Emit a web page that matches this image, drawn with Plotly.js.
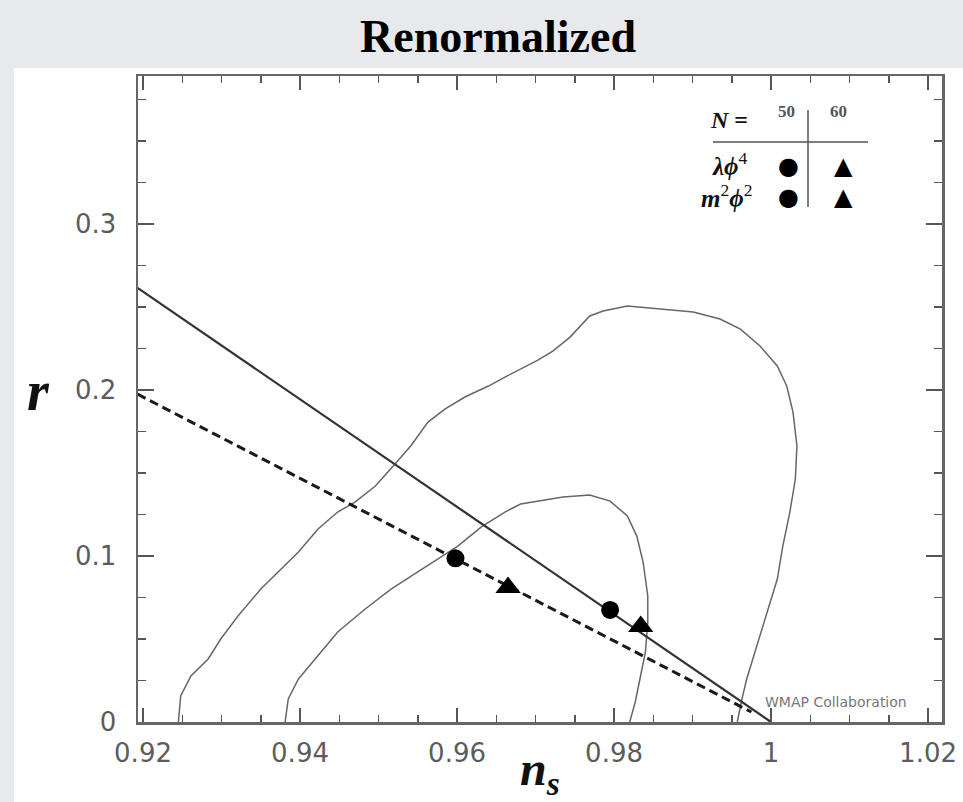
<!DOCTYPE html>
<html>
<head>
<meta charset="utf-8">
<script src="https://cdn.plot.ly/plotly-3.0.1.min.js"></script>
<style>
html,body{margin:0;padding:0;background:#e8e9ed;}
#chart{width:963px;height:802px;}
</style>
</head>
<body>
<div id="chart"></div>
<script>
// ---- data ----
const xTickVals = [0.92, 0.94, 0.96, 0.98, 1.00, 1.02];
const xTickText = ['0.92', '0.94', '0.96', '0.98', '1', '1.02'];
const yTickVals = [0, 0.1, 0.2, 0.3];
const yTickText = ['0', '0.1', '0.2', '0.3'];

// 95% (outer) contour
const outerNs = [0.9245, 0.9248, 0.9261, 0.9283, 0.9299, 0.9321, 0.9350, 0.9376, 0.9398, 0.9423, 0.9448, 0.9470,
  0.9496, 0.9521, 0.9541, 0.9563, 0.9585, 0.9610, 0.9640, 0.9661, 0.9682, 0.9703, 0.9722, 0.9744, 0.9769,
  0.9786, 0.9817, 0.9859, 0.9901, 0.9935, 0.9961, 0.9986, 1.0008, 1.0020, 1.0028, 1.0033, 1.0031, 1.0024,
  1.0015, 1.0008, 0.9995, 0.9982, 0.9969, 0.9963, 0.9957];
const outerR = [0.000, 0.0157, 0.0277, 0.0380, 0.0500, 0.0639, 0.0801, 0.0922, 0.1024, 0.1163, 0.1265, 0.1325,
  0.1422, 0.1554, 0.1663, 0.1807, 0.1886, 0.1958, 0.2024, 0.2078, 0.2127, 0.2180, 0.2235, 0.2319, 0.2446,
  0.2476, 0.2506, 0.2488, 0.2470, 0.2428, 0.2367, 0.2265, 0.2145, 0.2024, 0.1867, 0.1663, 0.1464, 0.1265,
  0.1060, 0.0861, 0.0663, 0.0458, 0.0259, 0.0139, 0.000];

// 68% (inner) contour
const innerNs = [0.9381, 0.9385, 0.9398, 0.9419, 0.9448, 0.9483, 0.9516, 0.9550, 0.9576, 0.9601, 0.9631, 0.9661,
  0.9681, 0.9703, 0.9735, 0.9769, 0.9795, 0.9817, 0.9829, 0.9837, 0.9843, 0.9843, 0.9840, 0.9833, 0.9827, 0.9820];
const innerR = [0.000, 0.0139, 0.0259, 0.0380, 0.0542, 0.0681, 0.0801, 0.0904, 0.0982, 0.1060, 0.1175, 0.1265,
  0.1313, 0.1331, 0.1355, 0.1367, 0.1331, 0.1241, 0.1120, 0.0964, 0.0759, 0.0602, 0.0422, 0.0259, 0.0120, 0.000];

// model lines
const solidNs = [0.9193, 1.000];
const solidR = [0.2615, 0.000];
const dashedNs = [0.9193, 0.9975];
const dashedR = [0.1975, 0.0060];

// model points (N = 50 circles, N = 60 triangles)
const circleNs = [0.9598, 0.9795];
const circleR = [0.0986, 0.0675];
const triangleNs = [0.9665, 0.9834];
const triangleR = [0.0811, 0.0576];

// ---- layout helpers (pixel -> paper) ----
const L = 138, R = 942, T = 76, B = 722;
const px = x => (x - L) / (R - L);
const py = y => (B - y) / (B - T);

const serif = 'Liberation Serif, Times New Roman, serif';
const sans = 'DejaVu Sans, Verdana, sans-serif';

const traces = [
  {x: outerNs, y: outerR, mode: 'lines', line: {color: '#666', width: 1.5}, hoverinfo: 'skip'},
  {x: innerNs, y: innerR, mode: 'lines', line: {color: '#666', width: 1.5}, hoverinfo: 'skip'},
  {x: solidNs, y: solidR, mode: 'lines', line: {color: '#333', width: 2.2}},
  {x: dashedNs, y: dashedR, mode: 'lines', line: {color: '#1a1a1a', width: 3, dash: '9px,5px'}},
  {x: circleNs, y: circleR, mode: 'markers', marker: {symbol: 'circle', size: 18, color: '#000'}},
  {x: triangleNs, y: triangleR, mode: 'markers', marker: {symbol: 'triangle-up', size: 22, color: '#000'}}
];

const axisCommon = {
  showgrid: false, zeroline: false, showline: true, mirror: 'allticks',
  linecolor: '#666', linewidth: 2.5, ticks: 'inside', tickcolor: '#555', tickwidth: 2,
  tickfont: {family: sans, size: 26, color: '#5c5c5c'}, fixedrange: true
};

const layout = {
  width: 963, height: 802,
  paper_bgcolor: '#e8e9ed', plot_bgcolor: '#ffffff',
  margin: {l: L, r: 963 - R, t: T, b: 802 - B, pad: 0},
  showlegend: false,
  title: {text: '<b>Renormalized</b>', font: {family: serif, size: 46, color: '#000'},
    xref: 'container', x: 498 / 963, xanchor: 'center', yref: 'container', y: 1 - 36 / 802, yanchor: 'middle'},
  xaxis: Object.assign({}, axisCommon, {
    range: [0.91936, 1.02178], tickmode: 'array', tickvals: xTickVals, ticktext: xTickText,
    ticklen: 14, ticklabelstandoff: 6,
    minor: {tickmode: 'linear', tick0: 0.92, dtick: 0.005, ticks: 'inside', ticklen: 7, tickcolor: '#555', tickwidth: 1.5},
    title: {text: '<b><i>n</i></b><sub><b><i>s</i></b></sub>', font: {family: serif, size: 48, color: '#111'}, standoff: 0}
  }),
  yaxis: Object.assign({}, axisCommon, {
    range: [0, 0.3892], tickmode: 'array', tickvals: yTickVals, ticktext: yTickText,
    ticklen: 16, ticklabelstandoff: 14,
    minor: {tickmode: 'linear', tick0: 0, dtick: 0.025, ticks: 'inside', ticklen: 8, tickcolor: '#555', tickwidth: 1.5}
  }),
  shapes: [
    {type: 'rect', xref: 'paper', yref: 'paper', x0: px(14), x1: px(963), y0: py(802), y1: py(68),
      fillcolor: '#ffffff', line: {width: 0}, layer: 'below'},
    {type: 'line', xref: 'paper', yref: 'paper', x0: px(713), x1: px(868), y0: py(142), y1: py(142),
      line: {color: '#555', width: 1.5}},
    {type: 'line', xref: 'paper', yref: 'paper', x0: px(808), x1: px(808), y0: py(207), y1: py(110),
      line: {color: '#555', width: 1.5}}
  ],
  annotations: [
    {text: '<b><i>r</i></b>', xref: 'paper', yref: 'paper', x: px(38), y: py(391), showarrow: false,
      xanchor: 'center', yanchor: 'middle', font: {family: serif, size: 56, color: '#111'}},
    {text: '<b><i>N</i> =</b>', xref: 'paper', yref: 'paper', x: px(729), y: py(120), showarrow: false,
      xanchor: 'center', yanchor: 'middle', font: {family: serif, size: 24, color: '#111'}},
    {text: '<b>50</b>', xref: 'paper', yref: 'paper', x: px(786), y: py(112), showarrow: false,
      xanchor: 'center', yanchor: 'middle', font: {family: serif, size: 17, color: '#555'}},
    {text: '<b>60</b>', xref: 'paper', yref: 'paper', x: px(838), y: py(112), showarrow: false,
      xanchor: 'center', yanchor: 'middle', font: {family: serif, size: 17, color: '#555'}},
    {text: '<b><i>λϕ</i></b><sup>4</sup>', xref: 'paper', yref: 'paper', x: px(730), y: py(164), showarrow: false,
      xanchor: 'center', yanchor: 'middle', font: {family: serif, size: 25, color: '#111'}},
    {text: '<b><i>m</i></b><sup>2</sup><b><i>ϕ</i></b><sup>2</sup>', xref: 'paper', yref: 'paper', x: px(726), y: py(196), showarrow: false,
      xanchor: 'center', yanchor: 'middle', font: {family: serif, size: 25, color: '#111'}},
    {text: '●', xref: 'paper', yref: 'paper', x: px(788), y: py(166), showarrow: false,
      xanchor: 'center', yanchor: 'middle', font: {family: sans, size: 24, color: '#000'}},
    {text: '●', xref: 'paper', yref: 'paper', x: px(788), y: py(197), showarrow: false,
      xanchor: 'center', yanchor: 'middle', font: {family: sans, size: 24, color: '#000'}},
    {text: '▲', xref: 'paper', yref: 'paper', x: px(843), y: py(166), showarrow: false,
      xanchor: 'center', yanchor: 'middle', font: {family: sans, size: 24, color: '#000'}},
    {text: '▲', xref: 'paper', yref: 'paper', x: px(843), y: py(197), showarrow: false,
      xanchor: 'center', yanchor: 'middle', font: {family: sans, size: 24, color: '#000'}},
    {text: 'WMAP Collaboration', xref: 'paper', yref: 'paper', x: px(836), y: py(702), showarrow: false,
      xanchor: 'center', yanchor: 'middle', font: {family: sans, size: 14, color: '#777'}}
  ]
};

Plotly.newPlot('chart', traces, layout, {displayModeBar: false, staticPlot: true});
</script>
</body>
</html>
